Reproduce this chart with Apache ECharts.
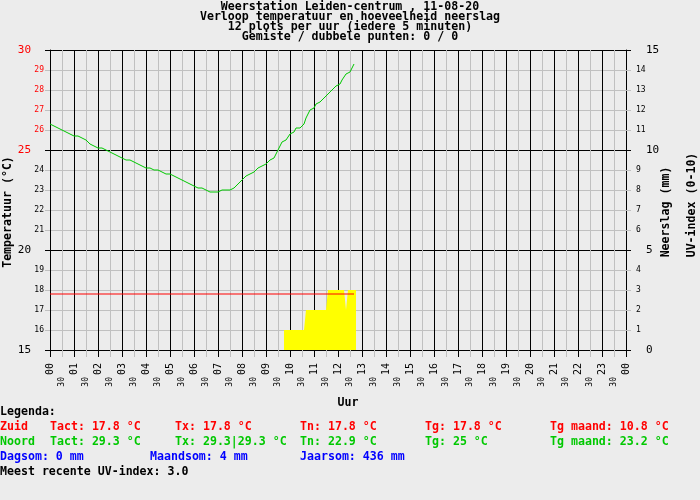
<!DOCTYPE html>
<html>
<head>
<meta charset="utf-8">
<script src="https://cdn.jsdelivr.net/npm/echarts@6/dist/echarts.min.js"></script>
<style>
  html, body { margin: 0; padding: 0; background: #ececec; }
  #chart { width: 700px; height: 500px; }
</style>
</head>
<body>
<div id="chart"></div>
<script>
// tijdas: een meting per 5 minuten vanaf 00:00
var stapMinuten = 5
var uurLabels = ['00','01','02','03','04','05','06','07','08','09','10','11',
  '12','13','14','15','16','17','18','19','20','21','22','23','00']

// temperatuur noord (groen), 00:00 t/m 12:40
var tempNoord = [
  26.3, 26.2, 26.2, 26.1, 26.1, 26.0, 26.0, 25.9, 25.9, 25.8, 25.8, 25.8,
  25.7, 25.7, 25.7, 25.6, 25.6, 25.5, 25.5, 25.4, 25.3, 25.3, 25.2, 25.2,
  25.1, 25.1, 25.1, 25.0, 25.0, 25.0, 24.9, 24.9, 24.8, 24.8, 24.7, 24.7,
  24.6, 24.6, 24.5, 24.5, 24.5, 24.4, 24.4, 24.3, 24.3, 24.2, 24.2, 24.1,
  24.1, 24.0, 24.1, 24.1, 24.0, 24.0, 24.0, 23.9, 23.9, 23.9, 23.8, 23.8,
  23.8, 23.7, 23.7, 23.6, 23.6, 23.5, 23.5, 23.4, 23.4, 23.3, 23.3, 23.3,
  23.2, 23.2, 23.1, 23.1, 23.1, 23.0, 23.0, 23.0, 22.9, 23.0, 22.9, 22.9,
  22.9, 23.0, 23.0, 23.0, 23.0, 23.0, 23.0, 23.0, 23.1, 23.2, 23.3, 23.4,
  23.5, 23.6, 23.7, 23.7, 23.8, 23.9, 23.9, 24.0, 24.1, 24.1, 24.2, 24.2,
  24.3, 24.4, 24.5, 24.5, 24.6, 24.7, 25.0, 25.2, 25.4, 25.3, 25.5, 25.6,
  25.8, 25.7, 25.9, 26.1, 26.1, 26.1, 26.2, 26.3, 26.6, 26.8, 27.0, 27.1,
  27.1, 27.3, 27.2, 27.4, 27.5, 27.6, 27.7, 27.8, 27.9, 28.0, 28.1, 28.2,
  28.2, 28.3, 28.5, 28.6, 28.8, 28.8, 28.9, 29.1, 29.3
]

// temperatuur zuid (rood), 00:00 t/m 12:40
var tempZuid = [
  17.8, 17.8, 17.8, 17.8, 17.8, 17.8, 17.8, 17.8, 17.8, 17.8, 17.8, 17.8,
  17.8, 17.8, 17.8, 17.8, 17.8, 17.8, 17.8, 17.8, 17.8, 17.8, 17.8, 17.8,
  17.8, 17.8, 17.8, 17.8, 17.8, 17.8, 17.8, 17.8, 17.8, 17.8, 17.8, 17.8,
  17.8, 17.8, 17.8, 17.8, 17.8, 17.8, 17.8, 17.8, 17.8, 17.8, 17.8, 17.8,
  17.8, 17.8, 17.8, 17.8, 17.8, 17.8, 17.8, 17.8, 17.8, 17.8, 17.8, 17.8,
  17.8, 17.8, 17.8, 17.8, 17.8, 17.8, 17.8, 17.8, 17.8, 17.8, 17.8, 17.8,
  17.8, 17.8, 17.8, 17.8, 17.8, 17.8, 17.8, 17.8, 17.8, 17.8, 17.8, 17.8,
  17.8, 17.8, 17.8, 17.8, 17.8, 17.8, 17.8, 17.8, 17.8, 17.8, 17.8, 17.8,
  17.8, 17.8, 17.8, 17.8, 17.8, 17.8, 17.8, 17.8, 17.8, 17.8, 17.8, 17.8,
  17.8, 17.8, 17.8, 17.8, 17.8, 17.8, 17.8, 17.8, 17.8, 17.8, 17.8, 17.8,
  17.8, 17.8, 17.8, 17.8, 17.8, 17.8, 17.8, 17.8, 17.8, 17.8, 17.8, 17.8,
  17.8, 17.8, 17.8, 17.8, 17.8, 17.8, 17.8, 17.8, 17.8, 17.8, 17.8, 17.8,
  17.8, 17.8, 17.8, 17.8, 17.8, 17.8, 17.8, 17.8, 17.8
]

// uv-index (geel), per 5 minuten vanaf 09:45
var uvStart = 9.75
var uvIndex = [
  1, 1, 1, 1, 1, 1, 1, 1, 1, 1, 1,
  2, 2, 2, 2, 2, 2, 2, 2, 2, 2, 2,
  3, 3, 3, 3, 3, 3, 3, 3, 3,
  2,
  3, 3, 3, 3
]

var titelRegels = [
  'Weerstation Leiden-centrum , 11-08-20',
  'Verloop temperatuur en hoeveelheid neerslag',
  '12 plots per uur (iedere 5 minuten)',
  'Gemiste / dubbele punten: 0 / 0'
]
var zuidRij = ['Zuid', 'Tact: 17.8 °C', 'Tx: 17.8 °C', 'Tn: 17.8 °C', 'Tg: 17.8 °C', 'Tg maand: 10.8 °C']
var noordRij = ['Noord', 'Tact: 29.3 °C', 'Tx: 29.3|29.3 °C', 'Tn: 22.9 °C', 'Tg: 25 °C', 'Tg maand: 23.2 °C']
var neerslagRij = ['Dagsom: 0 mm', 'Maandsom: 4 mm', 'Jaarsom: 436 mm']
var uvRegel = 'Meest recente UV-index: 3.0'

var ROOD = '#ff0000'
var GROEN = '#00c800'
var BLAUW = '#0000ff'
var GRIJS = '#c0c0c0'
var MONO = 'DejaVu Sans Mono'
var VET = 'bold 11.6px "DejaVu Sans Mono"'

function naarUur(i) {
  return i * stapMinuten / 60
}

var noordData = tempNoord.map(function (t, i) { return [naarUur(i), t] })
var zuidData = tempZuid.map(function (t, i) { return [naarUur(i), t] })
var uvData = uvIndex.map(function (v, i) { return [uvStart + naarUur(i), v] })
// laatste blok afsluiten aan het eind van het interval
uvData.push([uvStart + naarUur(uvIndex.length), uvIndex[uvIndex.length - 1]])

// losse teksten (titel, legenda, as-namen)
var teksten = []
titelRegels.forEach(function (r, i) {
  teksten.push({ x: 350, y: 7 + i * 10, text: r, fill: '#000', align: 'center' })
})
teksten.push({ x: 348, y: 403, text: 'Uur', fill: '#000', align: 'center' })
teksten.push({ x: 0, y: 412, text: 'Legenda:', fill: '#000' })
var kolommen = [0, 50, 175, 300, 425, 550]
zuidRij.forEach(function (t, i) { teksten.push({ x: kolommen[i], y: 427, text: t, fill: ROOD }) })
noordRij.forEach(function (t, i) { teksten.push({ x: kolommen[i], y: 442, text: t, fill: GROEN }) })
neerslagRij.forEach(function (t, i) { teksten.push({ x: i * 150, y: 457, text: t, fill: BLAUW }) })
teksten.push({ x: 0, y: 472, text: uvRegel, fill: '#000' })

var graphic = teksten.map(function (t) {
  return {
    type: 'text',
    x: t.x, y: t.y,
    style: { text: t.text, font: VET, fill: t.fill, textAlign: t.align || 'left', textVerticalAlign: 'middle' }
  }
})
// gedraaide as-namen
var asNamen = [
  { x: 8, y: 212, text: 'Temperatuur (°C)' },
  { x: 666, y: 212, text: 'Neerslag (mm)' },
  { x: 692, y: 205, text: 'UV-index (0-10)' }
]
asNamen.forEach(function (n) {
  graphic.push({
    type: 'text', x: n.x, y: n.y, rotation: Math.PI / 2,
    style: { text: n.text, font: VET, fill: '#000', textAlign: 'center', textVerticalAlign: 'middle' }
  })
})

var chart = echarts.init(document.getElementById('chart'))
chart.setOption({
  backgroundColor: '#ececec',
  animation: false,
  grid: { left: 50, right: 74, top: 50, bottom: 150 },
  graphic: graphic,
  xAxis: [{
    type: 'value', min: 0, max: 24, interval: 1,
    axisLine: { lineStyle: { color: '#000', width: 1 } },
    axisTick: { length: 7, lineStyle: { color: '#000' } },
    minorTick: { show: true, splitNumber: 2, length: 7, lineStyle: { color: GRIJS } },
    splitLine: { show: true, lineStyle: { color: '#000', width: 1 } },
    minorSplitLine: { show: true, lineStyle: { color: GRIJS, width: 1 } },
    axisLabel: {
      rotate: 90, margin: 13, fontFamily: MONO, fontSize: 10, color: '#000',
      formatter: function (v) { return uurLabels[Math.round(v)] }
    }
  }, {
    type: 'value', min: 0, max: 24, interval: 0.5, position: 'bottom',
    axisLine: { show: false }, axisTick: { show: false }, splitLine: { show: false },
    axisLabel: {
      rotate: 90, margin: 27, fontFamily: MONO, fontSize: 8, color: '#000',
      formatter: function (v) { return (v % 1 === 0.5) ? '30' : '' }
    }
  }],
  yAxis: [{
    type: 'value', min: 15, max: 30, interval: 5, position: 'left',
    axisLine: { show: true, lineStyle: { color: '#000' } },
    axisTick: { show: true, length: 5, lineStyle: { color: '#000' } },
    minorTick: { show: true, splitNumber: 5, length: 5, lineStyle: { color: GRIJS } },
    splitLine: { show: true, lineStyle: { color: '#000', width: 1 } },
    minorSplitLine: { show: true, lineStyle: { color: GRIJS, width: 1 } },
    axisLabel: {
      margin: 19, fontFamily: MONO, fontSize: 11,
      color: function (v) { return v >= 25 ? ROOD : '#000' }
    }
  }, {
    type: 'value', min: 15, max: 30, interval: 1, position: 'left',
    axisLine: { show: false }, axisTick: { show: false }, splitLine: { show: false },
    axisLabel: {
      margin: 6, fontFamily: MONO, fontSize: 8,
      color: function (v) { return v > 25 ? ROOD : '#000' },
      formatter: function (v) { return v % 5 === 0 ? '' : String(v) }
    }
  }, {
    type: 'value', min: 0, max: 15, interval: 5, position: 'right',
    axisLine: { show: true, lineStyle: { color: '#000' } },
    axisTick: { show: true, length: 5, lineStyle: { color: '#000' } },
    minorTick: { show: true, splitNumber: 5, length: 5, lineStyle: { color: GRIJS } },
    splitLine: { show: false },
    axisLabel: { margin: 20, fontFamily: MONO, fontSize: 11, color: '#000' }
  }, {
    type: 'value', min: 0, max: 15, interval: 1, position: 'right',
    axisLine: { show: false }, axisTick: { show: false }, splitLine: { show: false },
    axisLabel: {
      margin: 10, fontFamily: MONO, fontSize: 8, color: '#000',
      formatter: function (v) { return v % 5 === 0 ? '' : String(v) }
    }
  }],
  series: [{
    name: 'UV-index', type: 'line', xAxisIndex: 0, yAxisIndex: 2,
    data: uvData, step: 'end', showSymbol: false, silent: true,
    lineStyle: { width: 0 },
    areaStyle: { color: '#ffff00', opacity: 1 }
  }, {
    name: 'Zuid', type: 'line', xAxisIndex: 0, yAxisIndex: 0,
    data: zuidData, showSymbol: false, silent: true,
    lineStyle: { color: ROOD, width: 1 }
  }, {
    name: 'Noord', type: 'line', xAxisIndex: 0, yAxisIndex: 0,
    data: noordData, showSymbol: false, silent: true,
    lineStyle: { color: GROEN, width: 1 }
  }]
})
</script>
</body>
</html>
